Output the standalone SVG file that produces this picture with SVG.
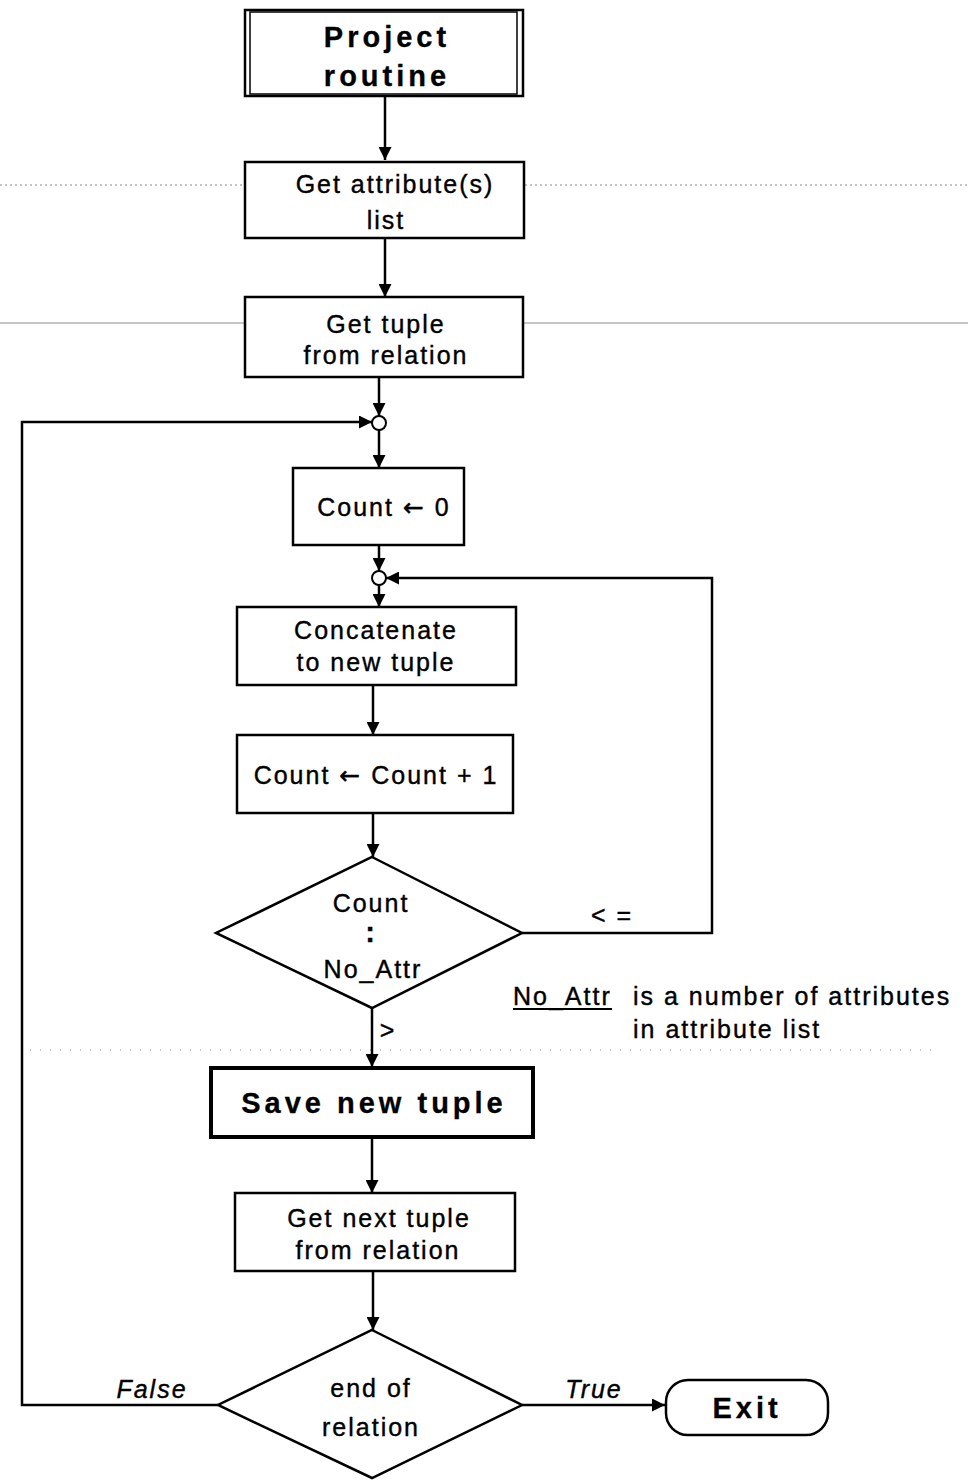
<svg xmlns="http://www.w3.org/2000/svg" width="968" height="1481" viewBox="0 0 968 1481">
  <style>
    .box { fill: #fff; stroke: #000; stroke-width: 2.5; }
    .thick { fill: #fff; stroke: #000; stroke-width: 4; }
    .flow { fill: none; stroke: #000; stroke-width: 2.5; marker-end: url(#head); }
    .t { font-family: "Liberation Sans", "DejaVu Sans", sans-serif; font-size: 25px; fill: #000; stroke: #000; stroke-width: 0.4; text-anchor: middle; dominant-baseline: central; letter-spacing: 2px; }
    .b { font-weight: bold; font-size: 29px; letter-spacing: 4px; stroke-width: 0.3; }
    .i { font-style: italic; }
    .l { text-anchor: start; }
    .arr { font-family: "DejaVu Sans", sans-serif; }
    .scan { stroke: #8a8a8a; stroke-width: 1; fill: none; }
  </style>
  <defs>
    <marker id="head" viewBox="0 0 10 10" refX="10" refY="5" markerUnits="userSpaceOnUse" markerWidth="13" markerHeight="13" orient="auto">
      <path d="M0,0 L10,5 L0,10 z" fill="#000"/>
    </marker>
  </defs>

  <rect width="968" height="1481" fill="#fff"/>

  <!-- faint ruling lines across the sheet -->
  <g id="ruling">
    <line class="scan" x1="0" y1="185" x2="968" y2="185" stroke-dasharray="2 3"/>
    <line class="scan" x1="0" y1="323" x2="968" y2="323"/>
    <line class="scan" x1="30" y1="1050" x2="940" y2="1050" stroke-dasharray="1 9" stroke="#aaa"/>
  </g>

  <g id="connectors">
    <line class="flow" x1="385" y1="97" x2="385" y2="160"/>
    <line class="flow" x1="385" y1="238" x2="385" y2="297"/>
    <line class="flow" x1="379" y1="377" x2="379" y2="416"/>
    <polyline class="flow" points="218,1405 22,1405 22,422 372,422"/>
    <line class="flow" x1="379" y1="430" x2="379" y2="468"/>
    <line class="flow" x1="379" y1="545" x2="379" y2="571"/>
    <line class="flow" x1="379" y1="585" x2="379" y2="607"/>
    <polyline class="flow" points="522,933 712,933 712,578 386,578"/>
    <line class="flow" x1="373" y1="685" x2="373" y2="735"/>
    <line class="flow" x1="373" y1="813" x2="373" y2="857"/>
    <line class="flow" x1="372" y1="1008" x2="372" y2="1067"/>
    <line class="flow" x1="372" y1="1137" x2="372" y2="1193"/>
    <line class="flow" x1="373" y1="1271" x2="373" y2="1330"/>
    <line class="flow" x1="522" y1="1405" x2="665" y2="1405"/>
    <text class="t" x="612" y="915">&lt; =</text>
    <text class="t" x="388" y="1030">&gt;</text>
    <text class="t i" x="152" y="1389">False</text>
    <text class="t i" x="594" y="1389">True</text>
  </g>

  <g id="project-routine">
    <rect class="box" x="245" y="10" width="278" height="86"/>
    <rect x="250" y="12" width="267" height="82" fill="none" stroke="#000" stroke-width="1.5"/>
    <text class="t b" x="387" y="37">Project</text>
    <text class="t b" x="387" y="76">routine</text>
  </g>

  <g id="get-attributes">
    <rect class="box" x="245" y="162" width="279" height="76"/>
    <text class="t" x="395" y="184">Get attribute(s)</text>
    <text class="t" x="386" y="220">list</text>
  </g>

  <g id="get-tuple">
    <rect class="box" x="245" y="297" width="278" height="80"/>
    <text class="t" x="386" y="324">Get tuple</text>
    <text class="t" x="386" y="355">from relation</text>
  </g>

  <g id="junction-outer">
    <circle cx="379" cy="423" r="7" fill="#fff" stroke="#000" stroke-width="2"/>
  </g>

  <g id="count-zero">
    <rect class="box" x="293" y="468" width="171" height="77"/>
    <text class="t" x="384" y="507">Count <tspan class="arr">←</tspan> 0</text>
  </g>

  <g id="junction-inner">
    <circle cx="379" cy="578" r="7" fill="#fff" stroke="#000" stroke-width="2"/>
  </g>

  <g id="concatenate">
    <rect class="box" x="237" y="607" width="279" height="78"/>
    <text class="t" x="376" y="630">Concatenate</text>
    <text class="t" x="376" y="662">to new tuple</text>
  </g>

  <g id="count-increment">
    <rect class="box" x="237" y="735" width="276" height="78"/>
    <text class="t" x="376" y="775">Count <tspan class="arr">←</tspan> Count + 1</text>
  </g>

  <g id="compare-count">
    <polygon class="box" points="372,857 522,933 372,1008 216,933"/>
    <text class="t" x="371" y="903">Count</text>
    <text class="t b" x="372" y="932">:</text>
    <text class="t" x="373" y="969">No_Attr</text>
  </g>

  <g id="note">
    <text class="t l" x="513" y="996">No_Attr</text>
    <line x1="513" y1="1009" x2="612" y2="1009" stroke="#000" stroke-width="2"/>
    <text class="t l" x="633" y="996">is a number of attributes</text>
    <text class="t l" x="633" y="1029">in attribute list</text>
  </g>

  <g id="save-tuple">
    <rect class="thick" x="211" y="1068" width="322" height="69"/>
    <text class="t b" x="374" y="1103">Save new tuple</text>
  </g>

  <g id="get-next-tuple">
    <rect class="box" x="235" y="1193" width="280" height="78"/>
    <text class="t" x="379" y="1218">Get next tuple</text>
    <text class="t" x="378" y="1250">from relation</text>
  </g>

  <g id="end-of-relation">
    <polygon class="box" points="372,1330 522,1405 372,1478 218,1405"/>
    <text class="t" x="371" y="1388">end of</text>
    <text class="t" x="371" y="1427">relation</text>
  </g>

  <g id="exit">
    <rect class="box" x="666" y="1380" width="162" height="55" rx="22" ry="22"/>
    <text class="t b" x="747" y="1408">Exit</text>
  </g>
</svg>
